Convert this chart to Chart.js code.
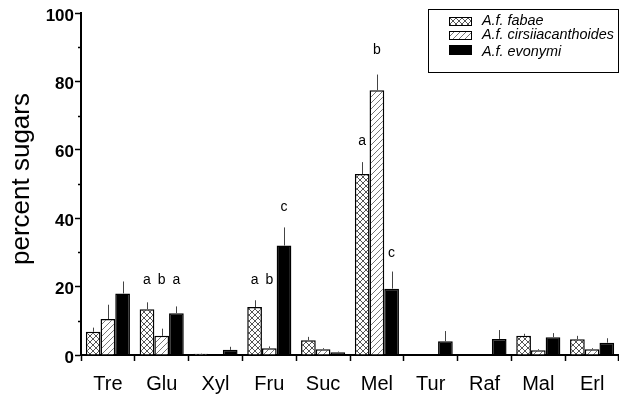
<!DOCTYPE html>
<html>
<head>
<meta charset="utf-8">
<script src="https://cdn.jsdelivr.net/npm/chart.js@4/dist/chart.umd.min.js"></script>
<style>
  html, body { margin: 0; padding: 0; background: #fff; }
  #wrap { width: 619px; height: 398px; }
</style>
</head>
<body>
<div id="wrap"><canvas id="sugar-chart" width="619" height="398"></canvas></div>
<script>
// sugar categories and series means (percent) with their SE
const sugars = ['Tre', 'Glu', 'Xyl', 'Fru', 'Suc', 'Mel', 'Tur', 'Raf', 'Mal', 'Erl'];
const seriesNames = ['A.f. fabae', 'A.f. cirsiiacanthoides', 'A.f. evonymi'];

const fabae     = [6.8, 13.4, 0.4, 14.0, 4.3, 52.9, 0, 0, 5.6, 4.6];
const fabaeErr  = [1.2, 2.0, 0.1, 2.0, 1.0, 3.5, 0, 0, 0.6, 1.0];
const cirsii    = [10.5, 5.6, 0, 2.0, 1.7, 77.4, 0, 0, 1.4, 1.7];
const cirsiiErr = [4.2, 2.1, 0, 0.5, 0.3, 4.6, 0, 0, 0.3, 0.3];
const evonymi   = [18.0, 12.2, 1.5, 32.0, 0.8, 19.4, 4.0, 4.7, 5.2, 3.6];
const evonymiErr = [3.5, 2.0, 0.9, 5.3, 0.2, 5.0, 3.0, 2.6, 1.2, 1.3];

// significance letters: [category, series index, letter, height in %]
const sigLetters = [
    ['Glu', 0, 'a', 21.8], ['Glu', 1, 'b', 21.8], ['Glu', 2, 'a', 21.8],
    ['Fru', 0, 'a', 21.8], ['Fru', 1, 'b', 21.8], ['Fru', 2, 'c', 43.3],
    ['Mel', 0, 'a', 62.4], ['Mel', 1, 'b', 89.0], ['Mel', 2, 'c', 29.7]
];

const yTicks = [0, 20, 40, 60, 80, 100];

// --- fill patterns ---
function makePattern(kind) {
    const c = document.createElement('canvas');
    c.width = 6; c.height = 6;
    const g = c.getContext('2d');
    g.fillStyle = '#fff';
    g.fillRect(0, 0, 6, 6);
    g.strokeStyle = kind === 'cross' ? '#555' : '#777';
    g.lineWidth = 1;
    g.beginPath();
    g.moveTo(-1, 7); g.lineTo(7, -1);
    g.moveTo(-1, 1); g.lineTo(1, -1);
    g.moveTo(5, 7); g.lineTo(7, 5);
    if (kind === 'cross') {
        g.moveTo(-1, -1); g.lineTo(7, 7);
        g.moveTo(5, -1); g.lineTo(7, 1);
        g.moveTo(-1, 5); g.lineTo(1, 7);
    }
    g.stroke();
    return g.createPattern(c, 'repeat');
}

const ctx = document.getElementById('sugar-chart').getContext('2d');
const crossFill = makePattern('cross');
const hatchFill = makePattern('hatch');
const errors = [fabaeErr, cirsiiErr, evonymiErr];
const fills = [crossFill, hatchFill, '#000'];

const extrasPlugin = {
    id: 'extras',
    afterDatasetsDraw(chart) {
        const c = chart.ctx;
        const y = chart.scales.y;
        const area = chart.chartArea;

        // error bars (upper half only, no cap)
        c.save();
        c.strokeStyle = '#444';
        c.lineWidth = 1;
        chart.data.datasets.forEach((ds, i) => {
            const meta = chart.getDatasetMeta(i);
            meta.data.forEach((bar, j) => {
                const e = errors[i][j];
                if (!e) return;
                const x = Math.round(bar.x) + 0.5;
                c.beginPath();
                c.moveTo(x, bar.y);
                c.lineTo(x, y.getPixelForValue(ds.data[j] + e));
                c.stroke();
            });
        });

        // minor y ticks
        c.strokeStyle = '#000';
        c.lineWidth = 1.5;
        for (let v = 10; v < 100; v += 20) {
            const py = Math.round(y.getPixelForValue(v)) + 0.5;
            c.beginPath();
            c.moveTo(area.left - 3, py);
            c.lineTo(area.left, py);
            c.stroke();
        }

        // significance letters
        c.fillStyle = '#000';
        c.font = '14px "Liberation Sans", Arial, sans-serif';
        c.textAlign = 'center';
        c.textBaseline = 'middle';
        sigLetters.forEach(([cat, s, txt, v]) => {
            const bar = chart.getDatasetMeta(s).data[sugars.indexOf(cat)];
            c.fillText(txt, bar.x, y.getPixelForValue(v));
        });

        // y title
        c.save();
        c.translate(22, 179);
        c.rotate(-Math.PI / 2);
        c.font = '26px "Liberation Sans", Arial, sans-serif';
        c.fillText('percent sugars', 0, 0);
        c.restore();

        // legend box
        c.strokeStyle = '#000';
        c.lineWidth = 1;
        c.strokeRect(428.5, 9.5, 190, 63);
        const rows = [20.5, 35, 52];
        c.font = 'italic 14.4px "Liberation Sans", Arial, sans-serif';
        c.textAlign = 'left';
        seriesNames.forEach((name, i) => {
            const top = [17, 31, 45][i];
            const h = i === 2 ? 10 : 9;
            c.fillStyle = fills[i];
            c.fillRect(449, top, 23, h);
            c.strokeRect(449.5, top + 0.5, 22, h - 1);
            c.fillStyle = '#000';
            c.fillText(name, 482, rows[i]);
        });
        c.restore();
    }
};

new Chart(ctx, {
    type: 'bar',
    data: {
        labels: sugars,
        datasets: [
            { label: seriesNames[0], data: fabae, backgroundColor: crossFill },
            { label: seriesNames[1], data: cirsii, backgroundColor: hatchFill },
            { label: seriesNames[2], data: evonymi, backgroundColor: '#000' }
        ].map(d => Object.assign(d, {
            borderColor: '#000',
            borderWidth: 1.5,
            categoryPercentage: 0.82,
            barPercentage: 1.0
        }))
    },
    options: {
        responsive: false,
        animation: false,
        devicePixelRatio: 1,
        layout: { padding: { top: 13, right: 0, left: 0, bottom: 0 } },
        plugins: { legend: { display: false }, tooltip: { enabled: false } },
        scales: {
            x: {
                grid: { drawOnChartArea: false, tickLength: 6, tickWidth: 1.5, tickColor: '#000', offset: true },
                border: { color: '#000', width: 2 },
                ticks: {
                    color: '#000',
                    padding: 11,
                    font: { family: '"Liberation Sans", Arial, sans-serif', size: 20 }
                },
                afterFit: s => { s.height = 43; }
            },
            y: {
                min: 0,
                max: 100,
                afterBuildTicks: s => { s.ticks = yTicks.map(v => ({ value: v })); },
                grid: { drawOnChartArea: false, tickLength: 6, tickWidth: 1.5, tickColor: '#000' },
                border: { color: '#000', width: 2 },
                ticks: {
                    color: '#000',
                    padding: 1,
                    labelOffset: 3,
                    font: { family: '"Liberation Sans", Arial, sans-serif', size: 17, weight: 'bold' }
                },
                afterFit: s => { s.width = 81; }
            }
        }
    },
    plugins: [extrasPlugin]
});
</script>
</body>
</html>
